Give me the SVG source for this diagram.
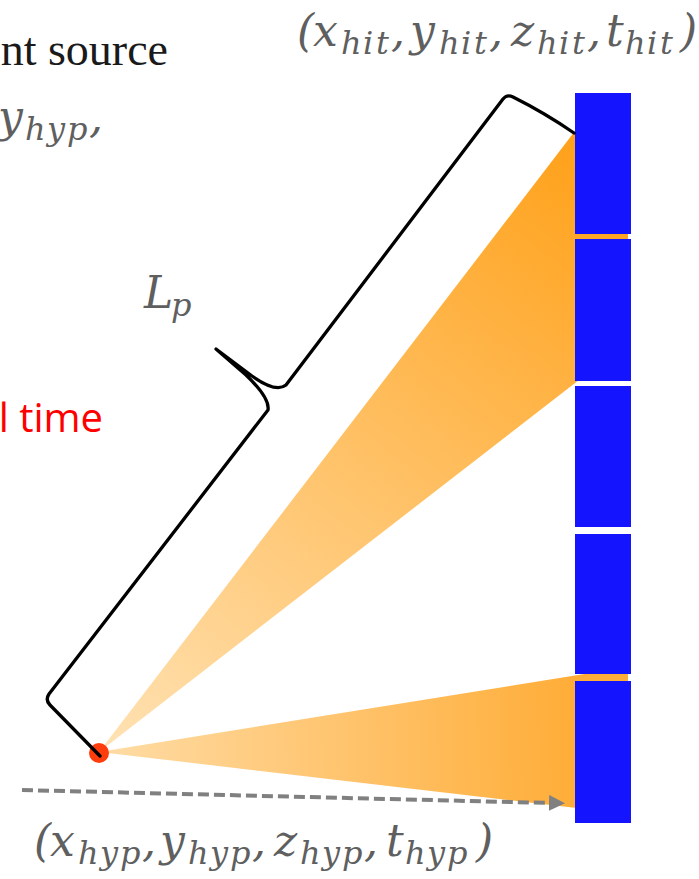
<svg xmlns="http://www.w3.org/2000/svg" width="699" height="879" viewBox="0 0 699 879">
<style>
.math{font-family:"DejaVu Serif",serif;font-style:italic;fill:#5f5f5f}
.m{font-size:44px}
.s{font-size:32px}
.seg{fill:#1414ff}
</style>
<defs>
<linearGradient id="g1" gradientUnits="userSpaceOnUse" x1="99" y1="752" x2="575" y2="140">
<stop offset="0" stop-color="#ffe2b4"/>
<stop offset="1" stop-color="#ffa11a"/>
</linearGradient>
<linearGradient id="g2" gradientUnits="userSpaceOnUse" x1="99" y1="752" x2="575" y2="740">
<stop offset="0" stop-color="#ffdca6"/>
<stop offset="1" stop-color="#ffad38"/>
</linearGradient>
<marker id="ah" markerUnits="userSpaceOnUse" markerWidth="18" markerHeight="16" refX="2" refY="8" orient="auto">
<path d="M0,0 L16,8 L0,16 Z" fill="#808080"/>
</marker>
</defs>
<rect width="699" height="879" fill="#fff"/>
<g id="beams">
<polygon points="99,752 575,131 628,131 628,342" fill="url(#g1)"/>
<polygon points="99,752 628,667 628,814" fill="url(#g2)"/>
</g>
<g id="detector">
<rect class="seg" x="575" y="93" width="56" height="141"/>
<rect class="seg" x="575" y="239" width="56" height="142"/>
<rect class="seg" x="575" y="386" width="56" height="141"/>
<rect class="seg" x="575" y="534" width="56" height="140"/>
<rect class="seg" x="575" y="681" width="56" height="142"/>
</g>
<g id="source">
<circle cx="99" cy="753" r="10" fill="#ff3c0c"/>
</g>
<g id="brace">
<path d="M100,756 L50,705 Q45,700 49,694 L268,410 Q270,398 246,375 L216,349 L252,376 Q276,393 286,385 L503,99 Q507,94 513,97 Q545,113 574,133" fill="none" stroke="#000" stroke-width="3.3" stroke-linejoin="round" stroke-linecap="round"/>
</g>
<g id="connectors">
<line x1="22" y1="790" x2="551" y2="803" stroke="#808080" stroke-width="4" stroke-dasharray="11 5" marker-end="url(#ah)"/>
</g>
<g id="labels">
<text x="168" y="65" text-anchor="end" font-family="Liberation Serif, serif" font-size="46" fill="#1a1a1a">nt source</text>
<text class="math" y="132"><tspan class="m" x="-2">y</tspan><tspan class="s" y="140" x="25">h</tspan><tspan class="s" x="47">y</tspan><tspan class="s" x="67">p</tspan><tspan class="m" y="132" x="89">,</tspan></text>
<text x="103" y="432" text-anchor="end" font-family="Open Sans, sans-serif" font-size="40" fill="#ff0000">l time</text>
<text class="math" y="308"><tspan class="m" x="144">L</tspan><tspan class="s" x="171" y="316">p</tspan></text>
<text class="math" y="46"><tspan class="m" x="297">(</tspan><tspan class="m" x="313">x</tspan><tspan class="s" y="54" x="341">h</tspan><tspan class="s" x="363">i</tspan><tspan class="s" x="376">t</tspan><tspan class="m" y="46" x="391">,</tspan><tspan class="m" x="410">y</tspan><tspan class="s" y="54" x="439">h</tspan><tspan class="s" x="461">i</tspan><tspan class="s" x="474">t</tspan><tspan class="m" y="46" x="489">,</tspan><tspan class="m" x="511">z</tspan><tspan class="s" y="54" x="537">h</tspan><tspan class="s" x="559">i</tspan><tspan class="s" x="572">t</tspan><tspan class="m" y="46" x="587">,</tspan><tspan class="m" x="606">t</tspan><tspan class="s" y="54" x="625">h</tspan><tspan class="s" x="647">i</tspan><tspan class="s" x="660">t</tspan><tspan class="m" y="46" x="680">)</tspan></text>
<text class="math" y="856"><tspan class="m" x="34">(</tspan><tspan class="m" x="50">x</tspan><tspan class="s" y="864" x="78">h</tspan><tspan class="s" x="100">y</tspan><tspan class="s" x="120">p</tspan><tspan class="m" y="856" x="142">,</tspan><tspan class="m" x="160">y</tspan><tspan class="s" y="864" x="188">h</tspan><tspan class="s" x="210">y</tspan><tspan class="s" x="230">p</tspan><tspan class="m" y="856" x="252">,</tspan><tspan class="m" x="274">z</tspan><tspan class="s" y="864" x="300">h</tspan><tspan class="s" x="322">y</tspan><tspan class="s" x="342">p</tspan><tspan class="m" y="856" x="364">,</tspan><tspan class="m" x="386">t</tspan><tspan class="s" y="864" x="405">h</tspan><tspan class="s" x="427">y</tspan><tspan class="s" x="447">p</tspan><tspan class="m" y="856" x="476">)</tspan></text>
</g>
</svg>
